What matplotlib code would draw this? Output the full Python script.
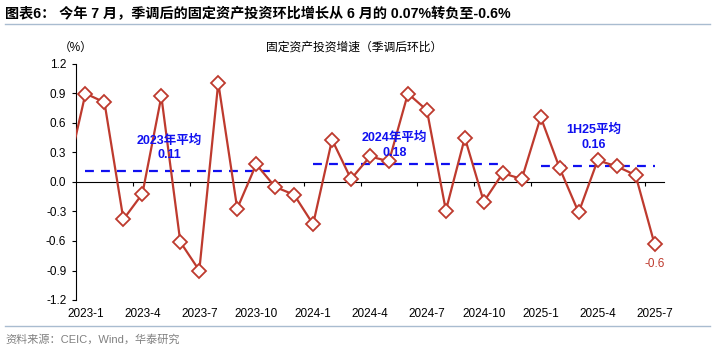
import numpy as np
import matplotlib
matplotlib.use('Agg')
import matplotlib.pyplot as plt

plt.rcParams['font.family'] = ['Liberation Sans', 'Noto Sans CJK SC', 'DejaVu Sans']

# 季调后固定资产投资环比 (%), 2022-12 至 2025-7
months = ['2022-12',
          '2023-1', '2023-2', '2023-3', '2023-4', '2023-5', '2023-6',
          '2023-7', '2023-8', '2023-9', '2023-10', '2023-11', '2023-12',
          '2024-1', '2024-2', '2024-3', '2024-4', '2024-5', '2024-6',
          '2024-7', '2024-8', '2024-9', '2024-10', '2024-11', '2024-12',
          '2025-1', '2025-2', '2025-3', '2025-4', '2025-5', '2025-6', '2025-7']
mom = [0.05,
       0.90, 0.81, -0.38, -0.12, 0.87, -0.61,
       -0.90, 1.01, -0.27, 0.18, -0.05, -0.13,
       -0.43, 0.43, 0.03, 0.26, 0.21, 0.90,
       0.73, -0.29, 0.45, -0.20, 0.09, 0.03,
       0.66, 0.14, -0.31, 0.22, 0.16, 0.07, -0.63]

# 年度均值线: (标签, 起始月, 结束月, 均值)
avg_labels = ['2023年平均', '2024年平均', '1H25平均']
avg_start = ['2023-1', '2024-1', '2025-1']
avg_end = ['2023-11', '2024-11', '2025-7']
avg_values = [0.11, 0.18, 0.16]

tick_labels = ['2023-1', '2023-4', '2023-7', '2023-10', '2024-1', '2024-4',
               '2024-7', '2024-10', '2025-1', '2025-4', '2025-7']

red = '#BE3A2E'
blue = '#1010F0'

x = np.arange(len(months)) - 1  # 2023-1 -> 0
pos = {m: i for m, i in zip(months, x)}

fig = plt.figure(figsize=(7.19, 3.48), dpi=100)
ax = fig.add_axes([76 / 719, 1 - 300 / 348, 588 / 719, 236 / 348])

ax.plot(x, mom, color=red, lw=1.6, zorder=3)
ax.plot(x[1:], mom[1:], ls='none', marker='D', ms=7.5, mfc='white',
        mec=red, mew=1.3, zorder=4)

# 标注位置 (横向索引, 纵向偏移 pt)
label_x = [4.4, 16.3, 26.8]
label_dy = [7, 4, 11]
for lab, s, e, v, lx, dy in zip(avg_labels, avg_start, avg_end, avg_values, label_x, label_dy):
    ax.plot([pos[s], pos[e]], [v, v], color=blue, lw=1.6, ls=(0, (4, 3.2)), zorder=2)
    ax.annotate(lab + '\n' + f'{v:.2f}', (lx, v), xytext=(0, dy), textcoords='offset points',
                ha='center', va='bottom', color=blue, fontsize=9, fontweight='bold',
                linespacing=1.3, zorder=5)

last = mom[-1]
ax.annotate(f'{last:.1f}', (x[-1], last), xytext=(0, -10), textcoords='offset points',
            ha='center', va='top', color=red, fontsize=8.5)

ax.set_xlim(-0.5, x[-1] + 0.5)
ax.set_ylim(-1.2, 1.2)
ax.set_yticks(np.arange(-1.2, 1.21, 0.3))
ax.set_yticklabels([f'{t:.1f}' for t in np.arange(-1.2, 1.21, 0.3)])
ax.tick_params(axis='y', direction='out', length=3, width=0.8, labelsize=8.5, pad=4)

for s in ['top', 'right']:
    ax.spines[s].set_visible(False)
ax.spines['left'].set_linewidth(0.8)
ax.spines['bottom'].set_position(('data', 0))
ax.spines['bottom'].set_linewidth(0.8)

# 零轴上的分隔刻度
ax.set_xticks(np.arange(2.5, x[-1], 3))
ax.tick_params(axis='x', direction='out', length=3, width=0.8, labelbottom=False)

sec = ax.secondary_xaxis('bottom')
sec.set_xticks([pos[t] for t in tick_labels])
sec.set_xticklabels(tick_labels)
sec.spines['bottom'].set_visible(False)
sec.tick_params(length=0, labelsize=8.5, pad=6)

ax.text(0.0, 1.07, '（%）', transform=ax.transAxes, ha='center', va='center', fontsize=8.5)
fig.text(354 / 719, 1 - 47.5 / 348, '固定资产投资增速（季调后环比）', ha='center', va='center',
         fontsize=8.5)

fig.text(5 / 719, 1 - 14 / 348, '图表6： 今年 7 月，季调后的固定资产投资环比增长从 6 月的 0.07%转负至-0.6%',
         ha='left', va='center', fontsize=10.2, fontweight='bold')
fig.add_artist(plt.Line2D([5 / 719, 710 / 719], [1 - 23.5 / 348] * 2, color='#A9BCD0', lw=1))
fig.add_artist(plt.Line2D([5 / 719, 710 / 719], [1 - 326 / 348] * 2, color='#A9BCD0', lw=1))
fig.text(5 / 719, 1 - 339 / 348, '资料来源：CEIC，Wind，华泰研究', ha='left', va='center',
         fontsize=8, color='#808080')

fig.savefig('out.png', dpi=100)
